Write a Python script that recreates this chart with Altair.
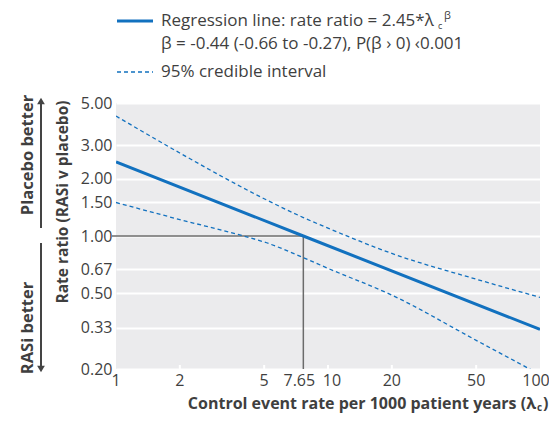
import altair as alt
import pandas as pd

# ---------------- data ----------------
reg_x = [1, 7.65, 100]
reg_y = [2.45, 1.00, 0.323]

upper_x = [1, 2, 5, 7.65, 10, 20, 50, 100]
upper_y = [4.27, 2.73, 1.57, 1.25, 1.10, 0.81, 0.593, 0.476]

lower_x = [1, 2, 4, 5, 7.65, 10, 20, 50, 100]
lower_y = [1.50, 1.22, 1.00, 0.93, 0.77, 0.676, 0.489, 0.283, 0.187]

x_ticks = [1, 2, 5, 7.65, 10, 20, 50, 100]
inner_ticks = [2, 5, 10, 20, 50]
y_ticks = [0.2, 0.33, 0.5, 0.67, 1.0, 1.5, 2.0, 3.0, 5.0]

ref_x0 = [1]
ref_x = [7.65]
ref_y = [1.0]

legend_line1 = "Regression line: rate ratio = 2.45*λ"
legend_line2 = "β = -0.44 (-0.66 to -0.27), P(β › 0) ‹0.001"
legend_line3 = "95% credible interval"
y_title = "Rate ratio (RASi v placebo)"
x_title = "Control event rate per 1000 patient years (λ"
up_label = "Placebo better"
down_label = "RASi better"

# ---------------- styling ----------------
BLUE = "#1271bf"
GREY = "#6b6b6b"
TXT = "#3f3f3f"
FONT = "Open Sans"
W, H = 424, 266

xs = alt.Scale(type="log", domain=[1, 100], nice=False)
ys = alt.Scale(type="log", domain=[0.2, 5], nice=False)

reg_df = pd.DataFrame({"x": reg_x, "y": reg_y})
up_df = pd.DataFrame({"x": upper_x, "y": upper_y})
lo_df = pd.DataFrame({"x": lower_x, "y": lower_y})

x_axis = alt.Axis(values=x_ticks, title=None, ticks=False, domain=False,
                  grid=False, labels=False)
y_axis = alt.Axis(values=y_ticks, format=".2f", title=None, ticks=False, domain=False,
                  grid=True, gridColor="white", gridWidth=2, labelOverlap=False,
                  labelFlush=False, labelFontSize=16, labelColor=TXT, labelFont=FONT,
                  labelPadding=4)

base_axes = alt.Chart(reg_df).mark_line(opacity=0).encode(
    x=alt.X("x:Q", scale=xs, axis=x_axis),
    y=alt.Y("y:Q", scale=ys, axis=y_axis),
)

# x tick labels as text marks on the x scale (small nudges where labels crowd)
xl_df = pd.DataFrame({"x": x_ticks})


def xlabels(cond, dx):
    return alt.Chart(xl_df).transform_filter(cond).mark_text(
        font=FONT, fontSize=16, color=TXT, baseline="top", align="center", dx=dx).encode(
        x=alt.X("x:Q", scale=xs), y=alt.value(H + 4),
        text=alt.Text("x:Q", format="~g"))


xlab_layers = [
    xlabels("datum.x != 7.65 && datum.x != 10 && datum.x != 100", 0),
    xlabels("datum.x == 7.65", -4),
    xlabels("datum.x == 10", 4),
    xlabels("datum.x == 100", -4),
]

reg_line = alt.Chart(reg_df).mark_line(color=BLUE, strokeWidth=3, clip=True).encode(
    x=alt.X("x:Q", scale=xs), y=alt.Y("y:Q", scale=ys))
up_line = alt.Chart(up_df).mark_line(color=BLUE, strokeWidth=1.3, strokeDash=[4, 3],
                                     interpolate="monotone", clip=True).encode(
    x=alt.X("x:Q", scale=xs), y=alt.Y("y:Q", scale=ys))
lo_line = alt.Chart(lo_df).mark_line(color=BLUE, strokeWidth=1.3, strokeDash=[4, 3],
                                     interpolate="monotone", clip=True).encode(
    x=alt.X("x:Q", scale=xs), y=alt.Y("y:Q", scale=ys))

tick_df = pd.DataFrame({"x": inner_ticks})
inner = alt.Chart(tick_df).mark_rule(color="white", strokeWidth=2).encode(
    x=alt.X("x:Q", scale=xs), y=alt.value(H - 4), y2=alt.value(H))

ref_df = pd.DataFrame({"x0": ref_x0, "x": ref_x, "y": ref_y})
vref = alt.Chart(ref_df).mark_rule(color=GREY, strokeWidth=1.5).encode(
    x=alt.X("x:Q", scale=xs), y=alt.Y("y:Q", scale=ys), y2=alt.value(H))
href = alt.Chart(ref_df).mark_rule(color=GREY, strokeWidth=1.5).encode(
    x=alt.X("x0:Q", scale=xs), x2=alt.X2("x:Q"), y=alt.Y("y:Q", scale=ys))
href_stub = alt.Chart(ref_df).mark_rule(color=GREY, strokeWidth=1.5).encode(
    x=alt.value(-4), x2=alt.value(0), y=alt.Y("y:Q", scale=ys))


def txt(s, x, y, size=17, weight="normal", angle=0, align="left", color=TXT):
    return alt.Chart(pd.DataFrame({"t": [s]})).mark_text(
        font=FONT, fontSize=size, fontWeight=weight, angle=angle, align=align,
        baseline="middle", color=color).encode(
        text="t:N", x=alt.value(x), y=alt.value(y))


def seg(x1, x2, y1, y2, color, width, dash=None):
    kw = dict(color=color, strokeWidth=width)
    if dash:
        kw["strokeDash"] = dash
    return alt.Chart(pd.DataFrame({"a": [0]})).mark_rule(**kw).encode(
        x=alt.value(x1), x2=alt.value(x2), y=alt.value(y1), y2=alt.value(y2))


# legend
leg = [
    seg(1, 37, -82, -82, BLUE, 3),
    txt(legend_line1, 45, -82),
    txt("c", 322, -77, size=9),
    txt("β", 328, -87, size=11),
    txt(legend_line2, 45, -59),
    seg(1, 37, -31, -31, BLUE, 1.3, [4, 3]),
    txt(legend_line3, 45, -31),
]

# axis titles
titles = [
    txt(y_title, -53, 99, size=15.5, weight="bold", angle=270, align="center"),
    txt(x_title, 420, 301, size=16, weight="bold", align="right"),
    txt("c", 421, 305, size=10, weight="bold"),
    txt(")", 427, 301, size=16, weight="bold"),
    txt(up_label, -88, 52, size=16.5, weight="bold", angle=270, align="center"),
    txt(down_label, -88, 225, size=16.5, weight="bold", angle=270, align="center"),
]

arrows = [
    seg(-75, -75, 0, 125, "#444444", 2),
    seg(-75, -75, 140, 264, "#444444", 2),
    alt.Chart(pd.DataFrame({"a": [0]})).mark_point(shape="triangle-up", filled=True, size=60,
                                                   color="#444444", opacity=1).encode(
        x=alt.value(-75), y=alt.value(-2)),
    alt.Chart(pd.DataFrame({"a": [0]})).mark_point(shape="triangle-down", filled=True, size=60,
                                                   color="#444444", opacity=1).encode(
        x=alt.value(-75), y=alt.value(266)),
]

chart = alt.layer(
    base_axes, inner, href, href_stub, vref, up_line, lo_line, reg_line,
    *xlab_layers, *leg, *titles, *arrows
).properties(
    width=W, height=H,
    autosize=alt.AutoSizeParams(type="none"),
    padding={"left": 108, "top": 95, "right": 9, "bottom": 45},
).configure_view(fill="#ebebed", stroke=None)

chart.save("out.html", embed_options={"renderer": "svg", "actions": False})
